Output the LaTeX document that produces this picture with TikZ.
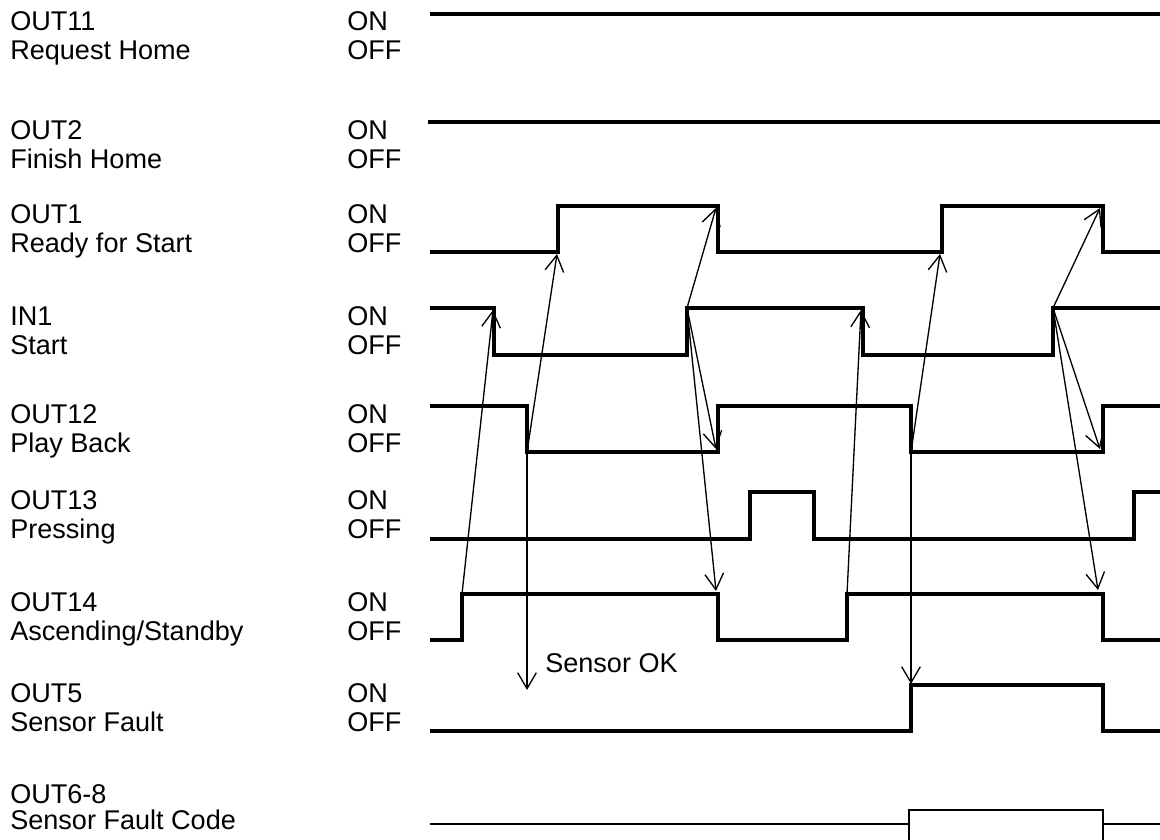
\documentclass[tikz,border=0pt]{standalone}
\usepackage{fontspec}
\setmainfont{Liberation Sans}
\usetikzlibrary{arrows.meta}

\tikzset{
  sig/.style={line width=2.6pt},
  bus/.style={line width=1.2pt},
  cause/.style={-{Straight Barb[length=12pt,width=14pt]}, line width=1pt},
  lbl/.style={anchor=base west, inner sep=0pt, font=\fontsize{20.3}{23}\selectfont},
}

\begin{document}
\begin{tikzpicture}[x=0.75pt,y=-0.75pt]
  \useasboundingbox (0,0) rectangle (1160,839);
  % signal names
  \node[lbl] (n0) at (10,30) {OUT11};
  \node[lbl] (d0) at (10,59) {Request Home};
  \node[lbl] (n1) at (10,139) {OUT2};
  \node[lbl] (d1) at (10,168) {Finish Home};
  \node[lbl] (n2) at (10,223) {OUT1};
  \node[lbl] (d2) at (10,252) {Ready for Start};
  \node[lbl] (n3) at (10,325) {IN1};
  \node[lbl] (d3) at (10,354) {Start};
  \node[lbl] (n4) at (10,423) {OUT12};
  \node[lbl] (d4) at (10,452) {Play Back};
  \node[lbl] (n5) at (10,509) {OUT13};
  \node[lbl] (d5) at (10,538) {Pressing};
  \node[lbl] (n6) at (10,611) {OUT14};
  \node[lbl] (d6) at (10,640) {Ascending/Standby};
  \node[lbl] (n7) at (10,702) {OUT5};
  \node[lbl] (d7) at (10,731) {Sensor Fault};
  \node[lbl] (n8) at (10,803) {OUT6-8};
  \node[lbl] (d8) at (10,829) {Sensor Fault Code};
  % levels
  \node[lbl] (on0) at (347,30) {ON};
  \node[lbl] (off0) at (347,59) {OFF};
  \node[lbl] (on1) at (347,139) {ON};
  \node[lbl] (off1) at (347,168) {OFF};
  \node[lbl] (on2) at (347,223) {ON};
  \node[lbl] (off2) at (347,252) {OFF};
  \node[lbl] (on3) at (347,325) {ON};
  \node[lbl] (off3) at (347,354) {OFF};
  \node[lbl] (on4) at (347,423) {ON};
  \node[lbl] (off4) at (347,452) {OFF};
  \node[lbl] (on5) at (347,509) {ON};
  \node[lbl] (off5) at (347,538) {OFF};
  \node[lbl] (on6) at (347,611) {ON};
  \node[lbl] (off6) at (347,640) {OFF};
  \node[lbl] (on7) at (347,702) {ON};
  \node[lbl] (off7) at (347,731) {OFF};

  % waveforms
  \draw[sig] (430,14) -- (1160,14);
  \draw[sig] (428,122) -- (1160,122);
  \draw[sig] (430,252) -- (558,252) -- (558,206) -- (718,206) -- (718,252) -- (942,252)
    -- (942,206) -- (1103,206) -- (1103,252) -- (1160,252);
  \draw[sig] (430,308) -- (494,308) -- (494,355) -- (687,355) -- (687,308) -- (863,308)
    -- (863,355) -- (1053,355) -- (1053,308) -- (1160,308);
  \draw[sig] (430,406) -- (527,406) -- (527,452) -- (718,452) -- (718,406) -- (911,406)
    -- (911,452) -- (1103,452) -- (1103,406) -- (1160,406);
  \draw[sig] (430,539) -- (750,539) -- (750,492) -- (814,492) -- (814,539) -- (1134,539)
    -- (1134,492) -- (1160,492);
  \draw[sig] (430,640) -- (462,640) -- (462,594) -- (718,594) -- (718,640) -- (847,640)
    -- (847,594) -- (1103,594) -- (1103,640) -- (1160,640);
  \draw[sig] (430,731) -- (911,731) -- (911,685) -- (1103,685) -- (1103,731) -- (1160,731);
  \draw[bus] (430,824) -- (909,824);
  \draw[bus] (909,842) -- (909,810) -- (1103,810) -- (1103,842);
  \draw[bus] (1103,824) -- (1160,824);

  % edge points
  \coordinate (out14r1) at (462,594);
  \coordinate (in1f1) at (493,310);
  \coordinate (out12f1) at (527,452);
  \coordinate (out1r1) at (557,254);
  \coordinate (in1r1) at (687,308);
  \coordinate (out1f1) at (716,208);
  \coordinate (out12r1) at (716,449);
  \coordinate (out14f1) at (716,591);
  \coordinate (okpt) at (527,690);
  \coordinate (out14r2) at (847,594);
  \coordinate (in1f2) at (861,310);
  \coordinate (out12f2) at (911,452);
  \coordinate (out1r2) at (940,254);
  \coordinate (out5r) at (911,684);
  \coordinate (in1r2) at (1053,308);
  \coordinate (out1f2) at (1100,208);
  \coordinate (out12r2) at (1100,449);
  \coordinate (out14f2) at (1098,590);

  % cause and effect
  \draw[cause] (out14r1) -- (in1f1);
  \draw[cause] (out12f1) -- (out1r1);
  \draw[cause] (out12f1) -- (okpt);
  \draw[cause] (in1r1) -- (out1f1);
  \draw[cause] (in1r1) -- (out12r1);
  \draw[cause] (in1r1) -- (out14f1);
  \draw[cause] (out14r2) -- (in1f2);
  \draw[cause] (out12f2) -- (out1r2);
  \draw[cause] (out12f2) -- (out5r);
  \draw[cause] (in1r2) -- (out1f2);
  \draw[cause] (in1r2) -- (out12r2);
  \draw[cause] (in1r2) -- (out14f2);
  \node[lbl] (ok) at (545,672) {Sensor OK};
\end{tikzpicture}
\end{document}
